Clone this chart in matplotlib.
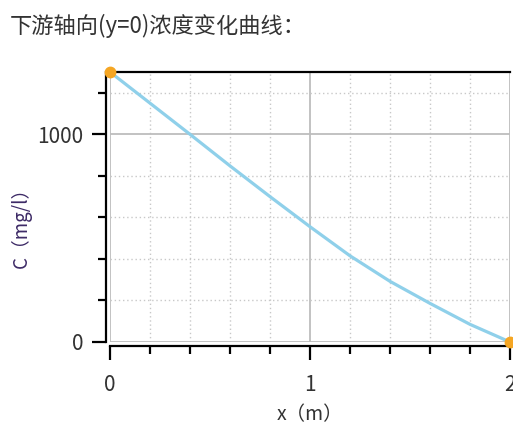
import matplotlib
matplotlib.use("Agg")
import matplotlib.pyplot as plt
from matplotlib.ticker import MultipleLocator

plt.rcParams['font.family'] = ['Noto Sans CJK SC', 'DejaVu Sans']

# distance downstream (m) and concentration (mg/l)
x_vals = [0.0, 0.2, 0.4, 0.6, 0.8, 1.0, 1.2, 1.4, 1.6, 1.8, 2.0]
c_vals = [1300, 1150, 1000, 848, 700, 555, 415, 292, 186, 85, 0]

title_text = "下游轴向(y=0)浓度变化曲线："
x_label = "x（m）"
y_label = "C（mg/l）"
text_color = "#333333"

fig = plt.figure(figsize=(5.13, 4.29), dpi=100)
ax = fig.add_axes([110 / 513, 87 / 429, 400 / 513, 270 / 429])

ax.plot(x_vals, c_vals, color="#8fd0ea", linewidth=2.3, zorder=3)
# endpoints highlighted
ax.plot([x_vals[0], x_vals[-1]], [c_vals[0], c_vals[-1]], "o", color="#f5a623",
        markersize=7.5, clip_on=False, zorder=4)

ax.set_xlim(0, 2)
ax.set_ylim(0, 1300)
ax.xaxis.set_major_locator(MultipleLocator(1))
ax.xaxis.set_minor_locator(MultipleLocator(0.2))
ax.yaxis.set_major_locator(MultipleLocator(1000))
ax.yaxis.set_minor_locator(MultipleLocator(200))

ax.grid(which="major", color="#bdbdbd", linewidth=1.3, linestyle="-")
ax.grid(which="minor", color="#c8c8c8", linewidth=1.0, linestyle=(0, (1, 2)))
ax.set_axisbelow(True)

ax.spines["right"].set_visible(False)
ax.spines["top"].set_linewidth(1.6)
for side in ["left", "bottom"]:
    ax.spines[side].set_position(("outward", 3))
    ax.spines[side].set_linewidth(1.6)

ax.tick_params(which="major", direction="out", length=10, width=1.6,
               labelsize=15, labelcolor=text_color, pad=6)
ax.tick_params(which="minor", direction="out", length=6, width=1.6)
ax.tick_params(axis="x", which="major", pad=10)

ax.set_xlabel(x_label, fontsize=14, color=text_color, labelpad=6)
ax.set_ylabel(y_label, fontsize=13.5, color="#3d2a66")
# put the y label where the reference has it (about 20 px from the left edge)
ax.yaxis.set_label_coords(-0.195, 0.44)

fig.text(10 / 513, 1 - 26 / 429, title_text, fontsize=16, color=text_color,
         va="center", ha="left")

fig.savefig("out.png", dpi=100)
